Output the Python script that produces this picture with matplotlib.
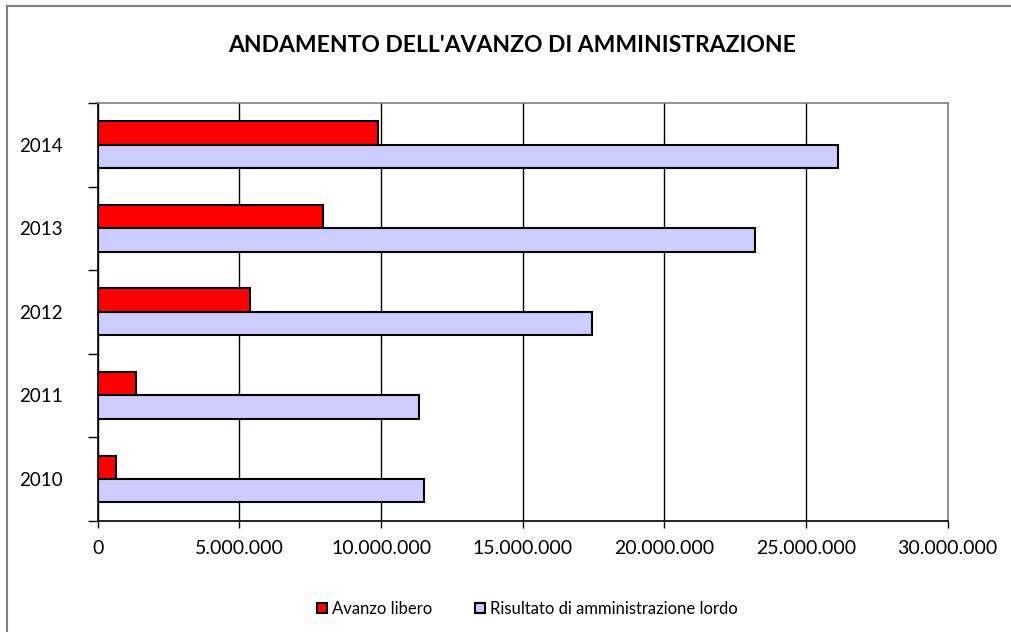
import matplotlib
matplotlib.use("Agg")
import matplotlib.pyplot as plt
import numpy as np
from matplotlib.patches import Rectangle
from matplotlib.ticker import FuncFormatter

anni = ["2010", "2011", "2012", "2013", "2014"]
avanzo_libero = [650000, 1360000, 5380000, 7960000, 9880000]
risultato_lordo = [11500000, 11340000, 17430000, 23190000, 26130000]

plt.rcParams["font.family"] = ["Lato", "DejaVu Sans"]

fig = plt.figure(figsize=(10.12, 6.32), dpi=100)

# cornice grigia del grafico
fig.patches.append(Rectangle((7 / 1012, -0.1), 1.2, 1 - 6 / 632 + 0.1,
                             transform=fig.transFigure, fill=False,
                             edgecolor="#808080", linewidth=1.5))

ax = fig.add_axes([97.7 / 1012, (632 - 520.7) / 632, 850 / 1012, 417.7 / 632])

y = np.arange(len(anni))
h = 0.28
ax.barh(y + h / 2, avanzo_libero, height=h, color="#FF0000",
        edgecolor="black", linewidth=1.5, label="Avanzo libero", zorder=3)
ax.barh(y - h / 2, risultato_lordo, height=h, color="#CCCCFF",
        edgecolor="black", linewidth=1.5,
        label="Risultato di amministrazione lordo", zorder=3)

ax.set_xlim(0, 30000000)
ax.set_ylim(-0.5, len(anni) - 0.5)
ax.set_xticks(np.arange(0, 30000001, 5000000))
ax.xaxis.set_major_formatter(
    FuncFormatter(lambda v, p: f"{int(v):,}".replace(",", ".")))
ax.tick_params(axis="x", length=5, width=1, pad=9, labelsize=14)
ax.grid(axis="x", color="black", linewidth=1, zorder=0)

ax.set_yticks(np.arange(-0.5, len(anni), 1))
ax.set_yticklabels([])
ax.set_yticks(y, minor=True)
ax.set_yticklabels(anni, minor=True)
ax.tick_params(axis="y", which="major", length=7, width=1)
ax.tick_params(axis="y", which="minor", length=0, pad=25, labelsize=13.5)

for s in ["left", "bottom"]:
    ax.spines[s].set_color("black")
    ax.spines[s].set_linewidth(1.2)
for s in ["top", "right"]:
    ax.spines[s].set_color("#808080")
    ax.spines[s].set_linewidth(1.2)

fig.text(0.506, 1 - 46 / 632, "ANDAMENTO DELL'AVANZO DI AMMINISTRAZIONE",
         ha="center", va="center", fontsize=16.5, fontweight="bold")

fig.legend(loc="center", bbox_to_anchor=(0.521, 1 - 609 / 632), ncol=2,
           frameon=False, fontsize=12, handlelength=0.6, handleheight=0.6,
           handletextpad=0.3, columnspacing=2.6)

fig.savefig("out.png", dpi=100)
